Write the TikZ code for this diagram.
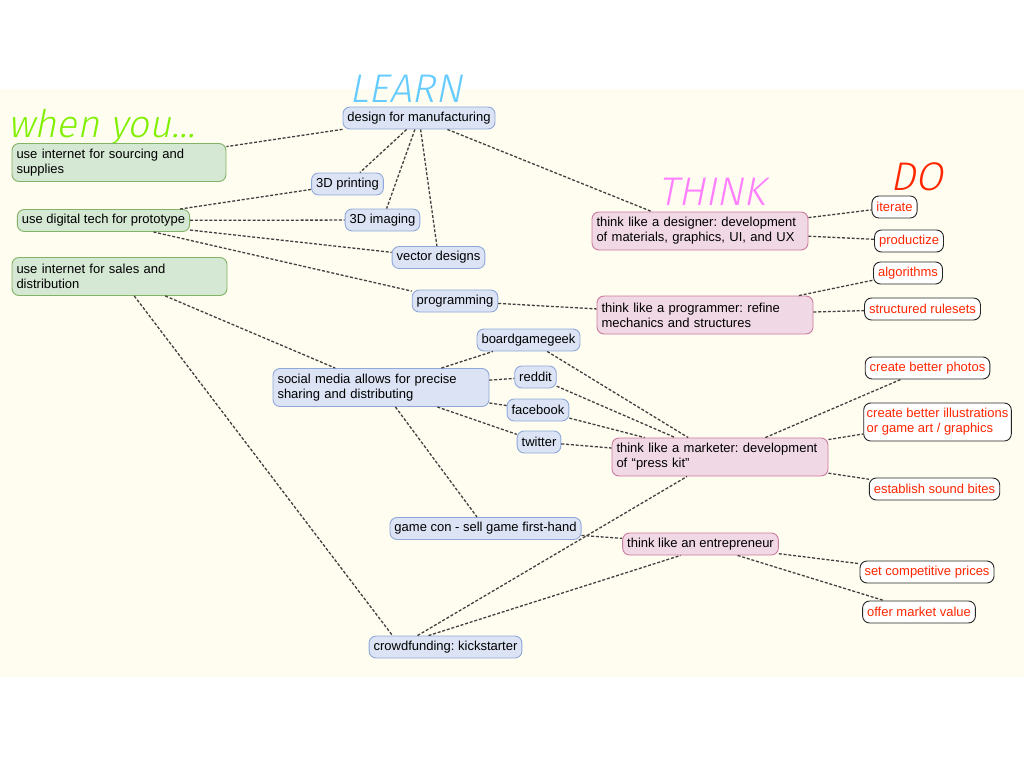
\documentclass[tikz,border=0pt]{standalone}
\usepackage{fontspec}
\setmainfont{Liberation Sans}
\newfontfamily\headfont{Fira Sans Light}[FakeSlant=0.2]
\definecolor{creambg}{RGB}{255,253,240}
\definecolor{whenfill}{RGB}{213,232,212}
\definecolor{whenline}{RGB}{130,179,102}
\definecolor{learnfill}{RGB}{219,227,244}
\definecolor{learnline}{RGB}{143,168,218}
\definecolor{thinkfill}{RGB}{241,216,229}
\definecolor{thinkline}{RGB}{204,122,160}
\definecolor{dored}{RGB}{255,38,0}
\definecolor{whengreen}{RGB}{128,240,0}
\definecolor{learnblue}{RGB}{102,204,255}
\definecolor{thinkpink}{RGB}{255,128,255}
\usepackage{tikz}
\frenchspacing

\begin{document}
\begin{tikzpicture}[x=1pt, y=-1pt,
  mapbox/.style={rounded corners=7pt, line width=0.9pt, inner xsep=4.5pt, inner ysep=3pt,
                 minimum height=22pt, font=\fontsize{13}{15}\selectfont},
  whenbox/.style={mapbox, fill=whenfill, draw=whenline},
  learnbox/.style={mapbox, fill=learnfill, draw=learnline},
  thinkbox/.style={mapbox, fill=thinkfill, draw=thinkline},
  dobox/.style={mapbox, fill=white, draw=black!85, text=dored},
  twoline/.style={text width=#1, align=left, minimum height=38pt},
  link/.style={draw=black!75, line width=1.3pt, dash pattern=on 3pt off 1.8pt},
  heading/.style={font=\headfont\fontsize{40}{40}\selectfont, anchor=base, inner sep=0pt, text depth=0pt},
]
\useasboundingbox (0,0) rectangle (1024,768);
% Background sheet
\fill[creambg] (0,89) rectangle (1024,677);

% Column headings
\node[heading, whengreen, anchor=base west, font=\headfont\fontsize{38}{38}\selectfont] (hwhen) at (8,137) {when you…};
\node[heading, learnblue] (hlearn) at (406,102) {LEARN};
\node[heading, thinkpink] (hthink) at (712,205) {THINK};
\node[heading, dored] (hdo) at (917,190) {DO};

% when you...
\node[whenbox, twoline=205pt] (sourcing) at (119,162.5) {use internet for sourcing and\\supplies};
\node[whenbox] (proto) at (103.5,220.5) {use digital tech for prototype};
\node[whenbox, twoline=206pt] (sales) at (119.5,276.5) {use internet for sales and\\distribution};

% LEARN
\node[learnbox] (dfm) at (419,118) {design for manufacturing};
\node[learnbox] (p3d) at (347.5,184) {3D printing};
\node[learnbox] (i3d) at (382.5,220) {3D imaging};
\node[learnbox] (vec) at (438.5,257.5) {vector designs};
\node[learnbox] (prog) at (455,301) {programming};
\node[learnbox] (bgg) at (528.5,340) {boardgamegeek};
\node[learnbox, twoline=207pt] (social) at (381,387.5) {social media allows for precise\\sharing and distributing};
\node[learnbox] (reddit) at (535.5,377) {reddit};
\node[learnbox] (fb) at (538,410) {facebook};
\node[learnbox] (tw) at (539,442) {twitter};
\node[learnbox] (gamecon) at (485.5,528.5) {game con - sell game first-hand};
\node[learnbox] (crowd) at (445.5,647) {crowdfunding: kickstarter};

% THINK
\node[thinkbox, twoline=207pt] (designer) at (700,231) {think like a designer: development\\of materials, graphics, UI, and UX};
\node[thinkbox, twoline=207pt] (programmer) at (705,315) {think like a programmer: refine\\mechanics and structures};
\node[thinkbox, twoline=207pt] (marketer) at (720,457) {think like a marketer: development\\of “press kit”};
\node[thinkbox] (entre) at (700.5,544) {think like an entrepreneur};

% DO
\node[dobox] (iterate) at (894.5,207) {iterate};
\node[dobox] (productize) at (909,241) {productize};
\node[dobox] (algo) at (908,273) {algorithms};
\node[dobox] (rules) at (922.5,309) {structured rulesets};
\node[dobox] (photos) at (927.5,368) {create better photos};
\node[dobox, align=left, minimum height=38pt, inner xsep=3pt] (illus) at (937.5,422) {create better illustrations\\or game art / graphics};
\node[dobox] (bites) at (934.5,489) {establish sound bites};
\node[dobox] (prices) at (927,572) {set competitive prices};
\node[dobox] (value) at (919,612) {offer market value};

% Links
\draw[link] (dfm) -- (sourcing);
\draw[link] (dfm) -- (p3d);
\draw[link] (dfm) -- (i3d);
\draw[link] (dfm) -- (vec);
\draw[link] (dfm) -- (designer);
\draw[link] (proto) -- (p3d);
\draw[link] (proto) -- (i3d);
\draw[link] (proto) -- (vec);
\draw[link] (proto) -- (prog);
\draw[link] (sales) -- (social);
\draw[link] (sales) -- ([xshift=-53pt]crowd.north);
\draw[link] (prog) -- (programmer);
\draw[link] (social) -- (bgg);
\draw[link] (social) -- (reddit);
\draw[link] (social) -- (fb);
\draw[link] (social) -- (tw);
\draw[link] (social) -- (gamecon);
\draw[link] (bgg) -- (marketer);
\draw[link] (reddit) -- (marketer);
\draw[link] (fb) -- (marketer);
\draw[link] (tw) -- (marketer);
\draw[link] (gamecon) -- (entre);
\draw[link] ([xshift=-28pt]crowd.north) -- (marketer);
\draw[link] ([xshift=-17pt]crowd.north) -- ([xshift=-20pt]entre.south);
\draw[link] (designer) -- (iterate);
\draw[link] (designer) -- (productize);
\draw[link] (programmer) -- (algo);
\draw[link] (programmer) -- (rules);
\draw[link] (marketer) -- (photos);
\draw[link] (marketer) -- (illus);
\draw[link] (marketer) -- (bites);
\draw[link] (entre) -- (prices);
\draw[link] (entre) -- ([xshift=-35pt]value.north);
\end{tikzpicture}
\end{document}
